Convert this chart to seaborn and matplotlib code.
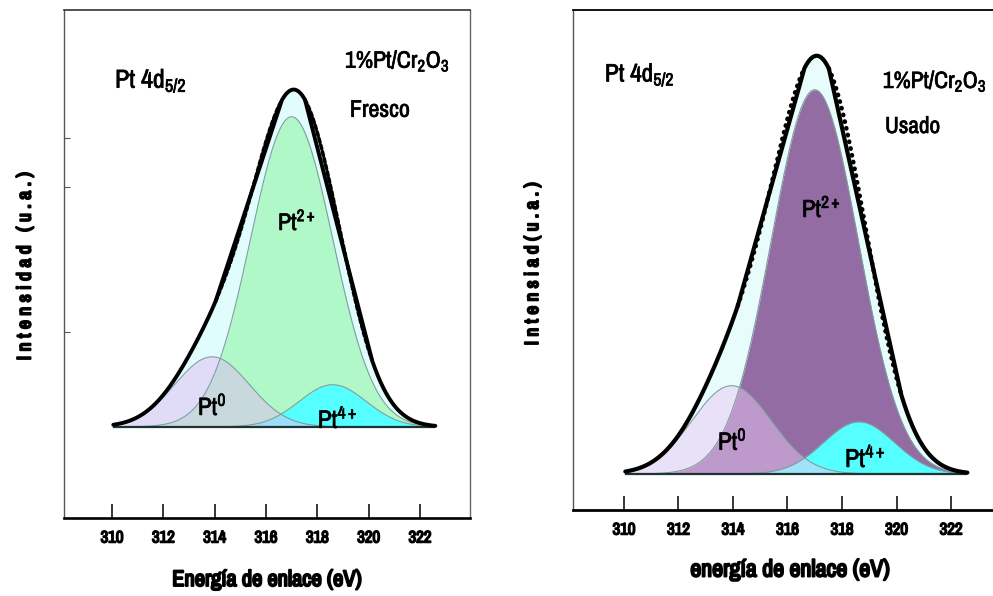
import numpy as np
import pandas as pd
import matplotlib
matplotlib.use("Agg")
import matplotlib.pyplot as plt
from matplotlib import font_manager as fm
import matplotlib.patheffects as pe
import seaborn as sns

# ---------------- data ----------------
energy_range = [310.05, 322.6]            # eV, fitted window
peak_names = ["Pt0", "Pt2+", "Pt4+"]
peak_labels = ["Pt$^{0}$", "Pt$^{2+}$", "Pt$^{4+}$"]

# fitted Gaussian components: centre (eV), height (a.u.), sigma (eV)
fresco_centers = [313.9, 317.0, 318.6]
fresco_heights = [20.6, 91.2, 12.4]
fresco_sigmas = [1.45, 1.6, 1.3]

usado_centers = [313.95, 317.0, 318.62]
usado_heights = [20.8, 90.6, 12.3]
usado_sigmas = [1.45, 1.6, 1.3]

xticks = [310, 312, 314, 316, 318, 320, 322]
left_yticks = [85, 70.6, 28]

sns.set_theme(style="white")

# pick a narrow sans font if one is installed
names = sorted({f.name for f in fm.fontManager.ttflist})
narrow = [n for n in names if "Narrow" in n] + [n for n in names if "Condensed" in n]
if narrow:
    MAIN = narrow[0]
elif "Liberation Sans" in names:
    MAIN = "Liberation Sans"
else:
    MAIN = "DejaVu Sans"
FONT = [MAIN, "DejaVu Sans"]
plt.rcParams["font.family"] = FONT
plt.rcParams["mathtext.fontset"] = "custom"
plt.rcParams["mathtext.rm"] = MAIN
plt.rcParams["mathtext.it"] = MAIN
plt.rcParams["mathtext.bf"] = MAIN
plt.rcParams["mathtext.default"] = "rm"
for k in ("text.color", "axes.labelcolor", "xtick.color", "ytick.color"):
    plt.rcParams[k] = "black"

BOLD = [pe.withStroke(linewidth=1.1, foreground="black")]
SEMI = [pe.withStroke(linewidth=0.5, foreground="black")]

fig = plt.figure(figsize=(9.93, 5.96), dpi=100)
W, H = 993, 596


def add_ax(x0, x1, ytop, ybot):
    return fig.add_axes([x0 / W, 1 - ybot / H, (x1 - x0) / W, (ybot - ytop) / H])


ax1 = add_ax(64, 470, 10, 518)
ax2 = add_ax(573, 993, 10, 510)

x = np.linspace(energy_range[0], energy_range[1], 700)


def components(centers, heights, sigmas):
    comps = {}
    for n, c, h, s in zip(peak_names, centers, heights, sigmas):
        comps[n] = h * np.exp(-((x - c) ** 2) / (2 * s ** 2))
    return comps


def draw(ax, comps, cfg):
    env = sum(comps.values())
    ax.fill_between(x, 0, env, color=cfg["env"], lw=0, zorder=1)
    ax.fill_between(x, 0, comps["Pt2+"], color=cfg["pt2"], lw=0, zorder=2)
    ax.fill_between(x, 0, comps["Pt4+"], color="#55ffff", lw=0, zorder=3)
    ax.fill_between(x, 0, comps["Pt0"], color=cfg["pt0"], alpha=0.5, lw=0, zorder=4)
    df = pd.DataFrame({"x": np.tile(x, 3),
                       "y": np.concatenate([comps[n] for n in peak_names]),
                       "peak": np.repeat(peak_names, len(x))})
    sns.lineplot(data=df, x="x", y="y", units="peak", estimator=None,
                 color="#7f9e9e", lw=0.8, ax=ax, zorder=5)
    ax.plot([x[0], x[-1]], [0, 0], color="#1e3434", lw=1.6, zorder=5,
            solid_capstyle="butt")

    # envelope: solid in lower flanks and crest, dotted on upper flanks
    imax = np.argmax(env)
    xm = x[imax]
    dotted = ((x < xm) & (env > cfg["thr_l"]) & (x < xm - 0.45)) | \
             ((x > xm) & (env > cfg["thr_r"]) & (x > xm + 0.45))
    solid = ~dotted
    env_s = np.where(solid, env, np.nan)
    env_d = np.where(dotted | np.roll(dotted, 1) | np.roll(dotted, -1), env, np.nan)
    sns.lineplot(x=x, y=env_s, color="black", lw=cfg["lw"], ax=ax, zorder=7,
                 solid_capstyle="round")
    ax.plot(x, env_d, color="black", lw=cfg["dlw"], linestyle=cfg["dash"],
            dash_capstyle="round", zorder=7)


cfg1 = dict(env="#e0fcfc", pt2="#b0f8c8", pt0="#e0bcf4", thr_l=37, thr_r=20,
            lw=2.8, dlw=2.6, dash=(0, (1.1, 0.8)))
cfg2 = dict(env="#e8fcfc", pt2="#936ca3", pt0="#eac8f6", thr_l=40, thr_r=19,
            lw=3.0, dlw=3.2, dash=(0, (0.1, 1.45)))

draw(ax1, components(fresco_centers, fresco_heights, fresco_sigmas), cfg1)
draw(ax2, components(usado_centers, usado_heights, usado_sigmas), cfg2)

ax1.set_xlim(308.13, 323.95)
ax1.set_ylim(-26.8, 122.6)
ax2.set_xlim(308.13, 323.54)
ax2.set_ylim(-8.5, 109.4)

for ax in (ax1, ax2):
    ax.set_xticks(xticks)
    ax.set_xticklabels([str(t) for t in xticks], fontsize=12, fontweight="bold",
                       path_effects=BOLD)
    ax.tick_params(axis="x", direction="in", length=10, width=1.1, color="black",
                   pad=9, bottom=True)
    ax.grid(False)
    ax.set_facecolor("white")

ax1.set_yticks(left_yticks)
ax1.set_yticklabels([])
ax1.tick_params(axis="y", direction="in", length=4, width=0.8, color="#555555",
                left=True)
ax2.set_yticks([])

for sp, (c, lw) in {"left": ("#555555", 1.0), "top": ("#333333", 1.2),
                    "right": ("#666666", 1.0), "bottom": ("black", 1.9)}.items():
    ax1.spines[sp].set_color(c)
    ax1.spines[sp].set_linewidth(lw)
for sp, (c, lw) in {"left": ("#555555", 1.0), "top": ("black", 1.3),
                    "bottom": ("black", 2.0)}.items():
    ax2.spines[sp].set_color(c)
    ax2.spines[sp].set_linewidth(lw)
ax2.spines["right"].set_visible(False)

xl1 = ax1.set_xlabel("Energía de enlace (eV)", fontsize=16, fontweight="bold")
xl2 = ax2.set_xlabel("energía de enlace (eV)", fontsize=16, fontweight="bold")
yl1 = ax1.set_ylabel("I n t e n s i d a d   ( u . a . )", fontsize=14,
                     fontweight="bold")
yl2 = ax2.set_ylabel("I n t e n s i a d ( u . a . )", fontsize=14,
                     fontweight="bold")
for lab in (xl1, xl2, yl1, yl2):
    lab.set_va("center")
    lab.set_ha("center")
    lab.set_path_effects([pe.withStroke(linewidth=1.4, foreground="black")])
ax1.xaxis.set_label_coords(0.5, (518 - 580) / 508)
ax2.xaxis.set_label_coords((790 - 573) / 420, (510 - 570) / 500)
ax1.yaxis.set_label_coords((25 - 64) / 406, (518 - 266) / 508)
ax2.yaxis.set_label_coords((533 - 573) / 420, (510 - 264) / 500)

txt = dict(ha="left", va="baseline", fontsize=16, zorder=9, path_effects=SEMI)
texts = [
    # Fresco panel: (text, x, y, target width px)
    (ax1.text(310.12, 99.7, "Pt 4d$_{5/2}$", **txt), 72),
    (ax1.text(319.08, 105.6, "1%Pt/Cr$_{2}$O$_{3}$", **txt), 105),
    (ax1.text(319.27, 91.2, "Fresco", **txt), 60),
    (ax1.text(316.47, 57.9, peak_labels[1], **txt), 38),
    (ax1.text(313.35, 3.5, peak_labels[0], **txt), 29),
    (ax1.text(318.02, -0.3, peak_labels[2], **txt), 40),
    # Usado panel
    (ax2.text(309.30, 92.5, "Pt 4d$_{5/2}$", **txt), 70),
    (ax2.text(319.50, 91.0, "1%Pt/Cr$_{2}$O$_{3}$", **txt), 104),
    (ax2.text(319.58, 80.4, "Usado", **txt), 55),
    (ax2.text(316.53, 60.6, peak_labels[1], **txt), 39),
    (ax2.text(313.45, 5.7, peak_labels[0], **txt), 29),
    (ax2.text(318.11, 1.65, peak_labels[2], **txt), 41),
]

# scale text sizes to the widths measured on the reference
fig.canvas.draw()
r = fig.canvas.get_renderer()


def fit(t, target, dim="w"):
    bb = t.get_window_extent(r)
    cur = bb.width if dim == "w" else bb.height
    if cur > 0:
        t.set_fontsize(t.get_fontsize() * target / cur)


for t, w in texts:
    fit(t, w)
fit(xl1, 190)
fit(xl2, 200)
fit(yl1, 187, "h")
fit(yl2, 162, "h")
lab0 = ax1.get_xticklabels()[0]
tick_fs = 12 * 23 / max(lab0.get_window_extent(r).width, 1)
for ax in (ax1, ax2):
    for lab in ax.get_xticklabels():
        lab.set_fontsize(tick_fs)

fig.savefig("out.png", dpi=100, facecolor="white")
